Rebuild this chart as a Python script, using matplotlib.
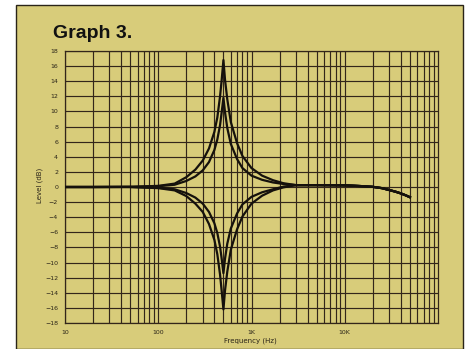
import matplotlib.pyplot as plt
from matplotlib.patches import Rectangle

# frequency points (Hz)
freq = [10, 20, 50, 100, 150, 200, 250, 300, 350, 400, 430, 460, 480, 500,
        520, 550, 600, 700, 800, 1000, 1300, 1700, 2200,
        3000, 5000, 10000, 15000, 20000, 25000, 30000, 35000, 40000, 45000, 50000]

# shared high-frequency tail (from 3 kHz on all curves overlap)
tail = [0.25, 0.25, 0.22, 0.12, 0.02, -0.15, -0.4, -0.62, -0.85, -1.1, -1.35]

boost_max = [0, 0, 0.02, 0.15, 0.45, 1.3, 2.3, 3.5, 5.1, 7.3, 9.2, 12.0, 14.3, 16.8,
             14.2, 11.6, 8.6, 5.8, 4.1, 2.5, 1.5, 0.9, 0.5] + tail
boost_mid = [0, 0, 0.02, 0.1, 0.3, 0.8, 1.4, 2.2, 3.3, 4.9, 6.3, 8.2, 10.0, 11.8,
             9.9, 7.8, 5.7, 3.7, 2.5, 1.5, 0.95, 0.6, 0.4] + tail
cut_mid = [0, 0, 0.0, -0.1, -0.3, -0.8, -1.4, -2.2, -3.3, -4.8, -6.1, -7.9, -9.6, -11.4,
           -9.5, -7.5, -5.5, -3.5, -2.3, -1.3, -0.7, -0.3, 0.05] + tail
cut_max = [0, 0, 0.0, -0.15, -0.45, -1.2, -2.2, -3.3, -4.9, -7.0, -8.9, -11.6, -13.9, -16.2,
           -13.7, -11.2, -8.3, -5.6, -3.9, -2.2, -1.15, -0.45, -0.05] + tail

y_ticks = list(range(-18, 19, 2))
x_ticks = [10, 100, 1000, 10000]
x_labels = ['10', '100', '1K', '10K']

paper = '#d8cc7a'
ink = '#33261a'

fig = plt.figure(figsize=(4.65, 3.49), dpi=100, facecolor='white')
# the yellow card behind the graph
card = Rectangle((16 / 465, 0), 447 / 465, 344 / 349, transform=fig.transFigure,
                 facecolor=paper, edgecolor='#2a2418', linewidth=1.0, zorder=-10)
fig.add_artist(card)

ax = fig.add_axes([65 / 465, 1 - 323 / 349, 373 / 465, 272 / 349])
ax.set_zorder(1)
ax.set_facecolor(paper)
ax.set_xscale('log')
ax.set_xlim(10, 100000)
ax.set_ylim(-18, 18)

for curve in (boost_max, boost_mid, cut_mid, cut_max):
    ax.plot(freq, curve, color='#15110c', linewidth=1.6, zorder=3)

ax.set_yticks(y_ticks)
ax.set_yticklabels([str(v).replace('-', '\u2212') for v in y_ticks])
ax.set_xticks(x_ticks)
ax.set_xticklabels(x_labels)
ax.grid(True, which='both', color=ink, linewidth=0.85)
ax.tick_params(which='both', length=0, labelsize=4.5, colors='#2a2418')
ax.tick_params(axis='y', pad=5)
ax.tick_params(axis='x', pad=5)
for s in ax.spines.values():
    s.set_color(ink)
    s.set_linewidth(0.9)

fig.text(53 / 465, 1 - 33 / 349, 'Graph 3.', fontsize=14, fontweight='bold',
         family='Liberation Sans', va='center', ha='left', color='#111')
fig.text(40 / 465, 1 - 185 / 349, 'Level (dB)', fontsize=5, rotation=90,
         va='center', ha='center', color='#2a2418')
fig.text(250 / 465, 1 - 341 / 349, 'Frequency (Hz)', fontsize=5,
         va='center', ha='center', color='#2a2418')

fig.savefig('out.png', dpi=100, facecolor='white')
